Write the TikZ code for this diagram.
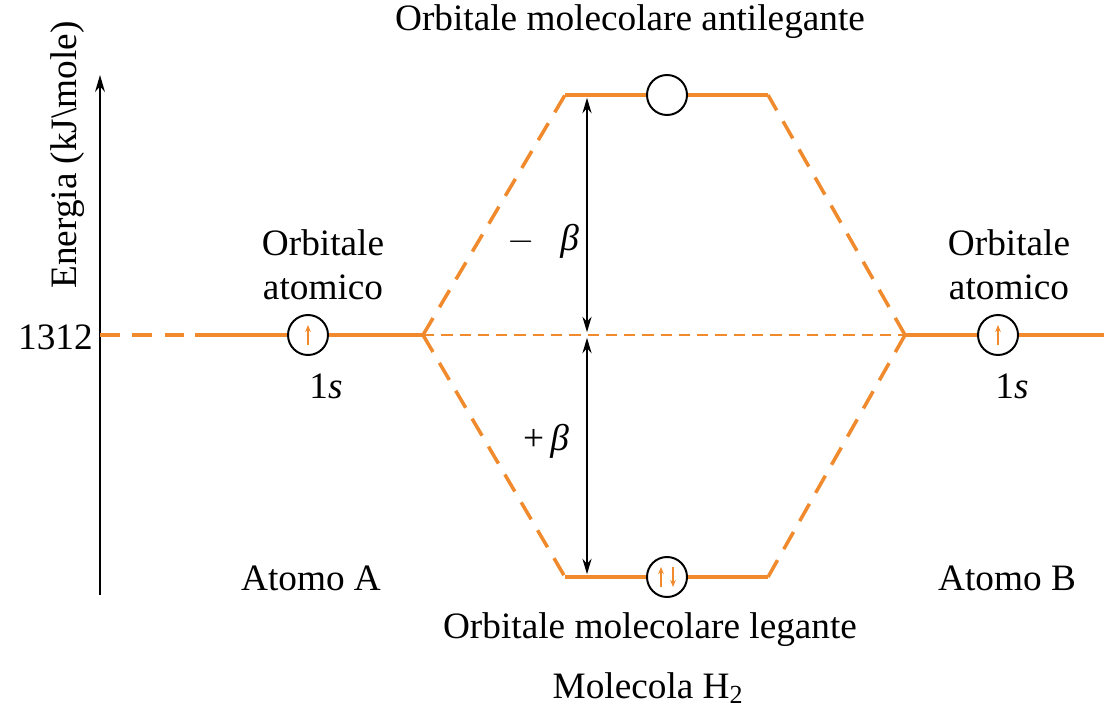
\documentclass[tikz,border=0pt]{standalone}
\usepackage{fontspec}
\setmainfont{Liberation Serif}
\usetikzlibrary{arrows.meta,calc}
\definecolor{orb-orange}{HTML}{F08A2C}

\tikzset{
  level/.style={orb-orange, line width=2.9pt},
  link/.style={orb-orange, line width=2.5pt, dash pattern=on 14pt off 9pt},
  midlink/.style={orb-orange, line width=0.9pt, dash pattern=on 8pt off 5pt},
  orb/.style={circle, draw=black, line width=1.4pt, fill=white,
              minimum size=1.0cm, inner sep=0pt},
  spin/.style={orb-orange, line width=1pt, -{Stealth[length=5pt,width=4pt]}},
  gap/.style={line width=1.3pt, {Stealth[length=11pt,width=6.5pt]}-{Stealth[length=11pt,width=6.5pt]},
              shorten <=2pt, shorten >=2pt},
  label/.style={font=\fontsize{26.5}{31}\selectfont, align=center}
}

\begin{document}
\begin{tikzpicture}[x=0.025cm, y=-0.025cm]
    \useasboundingbox (0,0) rectangle (1104,710);
    % energy axis
    \coordinate (ax0) at (100,595);
    \coordinate (ax1) at (100,75);
    \draw[line width=1.4pt, -{Stealth[length=12pt,width=7pt]}] (ax0) -- (ax1);
    \node[label, rotate=90] (elab) at (68,155) {Energia (kJ\textbackslash mole)};
    \node[label, anchor=east, inner sep=0pt] (e1312) at (93,337) {1312};

    % atom A
    \node[orb] (sA) at (308,335) {};
    \coordinate (lA) at (195,335);
    \coordinate (jA) at (423,335);
    \draw[link] (ax0 |- sA) -- (lA);
    \draw[level] (lA) -- (sA);
    \draw[level] (sA) -- (jA);
    \draw[spin] ($(sA)+(0,10)$) -- ($(sA)+(0,-10)$);

    % atom B
    \node[orb] (sB) at (998,335) {};
    \coordinate (jB) at (905,335);
    \coordinate (rB) at (1104,335);
    \draw[level] (jB) -- (sB);
    \draw[level] (sB) -- (rB);
    \draw[spin] ($(sB)+(0,10)$) -- ($(sB)+(0,-10)$);

    % molecular levels
    \node[orb] (anti) at (667,95) {};
    \coordinate (aL) at (565,95);
    \coordinate (aR) at (768,95);
    \draw[level] (aL) -- (anti);
    \draw[level] (anti) -- (aR);
    \node[orb] (bond) at (667,577) {};
    \coordinate (bL) at (565,577);
    \coordinate (bR) at (768,577);
    \draw[level] (bL) -- (bond);
    \draw[level] (bond) -- (bR);
    \draw[spin] ($(bond)+(-6,10)$) -- ($(bond)+(-6,-10)$);
    \draw[spin] ($(bond)+(6,-10)$) -- ($(bond)+(6,10)$);

    % correlation lines
    \draw[link] (jA) -- (aL);
    \draw[link] (jA) -- (bL);
    \draw[link] (jB) -- (aR);
    \draw[link] (jB) -- (bR);
    \draw[midlink] (jA) -- (jB);

    % beta gaps
    \coordinate (g0) at (587,335);
    \draw[gap] (g0) -- (aL -| g0);
    \draw[gap] (g0) -- (bL -| g0);
    \node[label] (mbeta) at (543,241) {$-$\hspace{0.7em}\textit{β}};
    \node[label] (pbeta) at (546,441) {+\,\textit{β}};

    % texts
    \node[label] (oA) at (323,265) {Orbitale\\atomico};
    \node[label] (oA1s) at (326,386) {1\textit{s}};
    \node[label] (oB) at (1009,265) {Orbitale\\atomico};
    \node[label] (oB1s) at (1012,386) {1\textit{s}};
    \node[label] (tanti) at (630,22) {Orbitale molecolare antilegante};
    \node[label] (tbond) at (650,630) {Orbitale molecolare legante};
    \node[label] (tmol) at (648,688) {Molecola H\textsubscript{2}};
    \node[label] (atA) at (311,578) {Atomo A};
    \node[label] (atB) at (1007,578) {Atomo B};
\end{tikzpicture}
\end{document}
